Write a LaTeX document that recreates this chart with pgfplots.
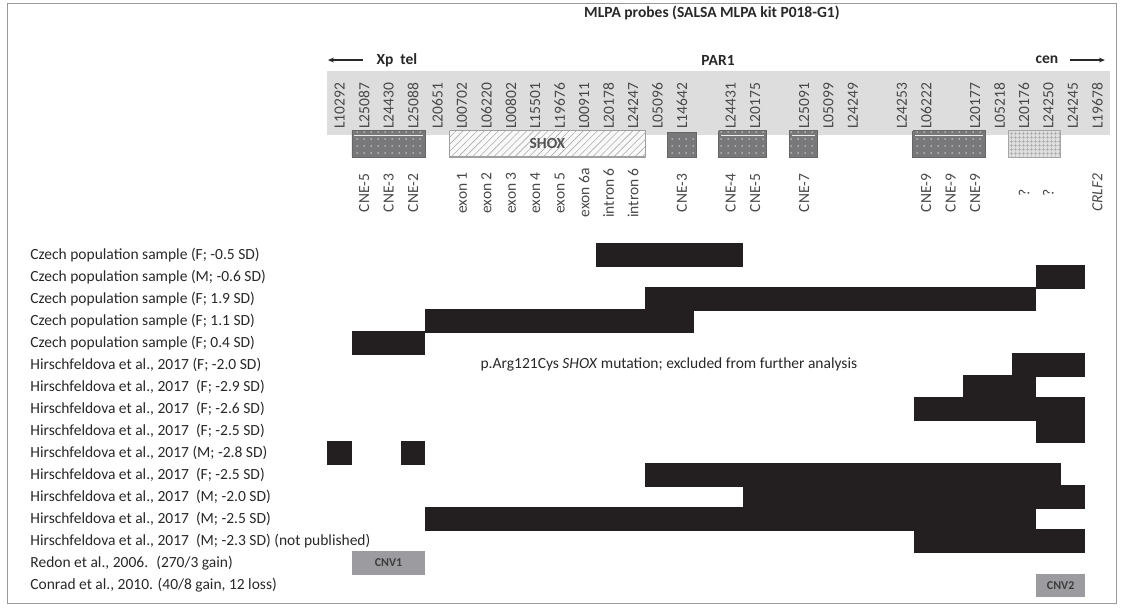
\documentclass[border=0pt]{standalone}
\usepackage{fontspec}
\setmainfont{Carlito}
\usepackage{pgfplots}
\pgfplotsset{compat=1.18}
\usetikzlibrary{patterns.meta, arrows.meta}

\definecolor{bar}{RGB}{35,31,32}
\definecolor{band}{RGB}{221,221,222}
\definecolor{cne}{RGB}{120,120,122}
\definecolor{cnv}{RGB}{156,156,160}
\definecolor{txt}{RGB}{40,40,40}

\newcommand\fs{\fontsize{15.5}{18}\selectfont}
% probe name above, annotation below (x = slot centre)
\newcommand\probe[2]{\node[rotate=90, font=\fs, text=txt!85] at (axis cs:#1,-5.77) {#2};}
\newcommand\note[2]{\node[rotate=90, font=\fs, text=txt!85] at (axis cs:#1,-1.82) {#2};}
\newcommand\row[2]{\node[anchor=west, font=\fs, text=txt] at (axis cs:-12.3,#1) {#2};}

\begin{document}
\begin{tikzpicture}
\begin{axis}[
  scale only axis, width=1122pt, height=608pt,
  xmin=-13.40, xmax=32.51,
  ymin=-10.59, ymax=17.05, y dir=reverse,
  hide axis, clip=false,
  del/.style={fill=bar, draw=none, mark=none},
  cne/.style={fill=cne, draw=gray!80!black, line width=0.8pt, mark=none,
    postaction={pattern={Dots[distance=7pt,radius=0.75pt]}, pattern color=white!80!gray}},
]
\path (rel axis cs:0,0) rectangle (rel axis cs:1,1);
\draw[gray!80, line width=1pt] (axis cs:-13.11,-10.45) rectangle (axis cs:32.30,16.86);

% header
\node[font=\fs\bfseries, text=txt] at (axis cs:15.73,-10.0) {MLPA probes (SALSA MLPA kit P018-G1)};
\node[font=\fs\bfseries, text=txt] at (axis cs:2.84,-7.86) {Xp\ \ tel};
\node[font=\fs\bfseries, text=txt] at (axis cs:15.98,-7.86) {PAR1};
\node[font=\fs\bfseries, text=txt] at (axis cs:29.44,-7.86) {cen};
\draw[-{Stealth[length=6pt,width=5pt]}, line width=1.2pt, txt] (axis cs:1.45,-7.86) -- (axis cs:0.02,-7.86);
\draw[-{Stealth[length=6pt,width=5pt]}, line width=1.2pt, txt] (axis cs:30.38,-7.86) -- (axis cs:31.81,-7.86);

% probe band
\addplot[fill=band, draw=none, mark=none] coordinates {(0,-7.36) (32,-7.36) (32,-4.45) (0,-4.45)};

% gene / element boxes
\addplot[cne] coordinates {(1,-4.64) (4,-4.64) (4,-3.45) (1,-3.45) (1,-4.64)};
\addplot[fill=white!95!gray, draw=gray!75, line width=1.2pt, mark=none,
  postaction={pattern={Lines[angle=45,distance=5pt,line width=0.6pt]}, pattern color=gray!65}]
  coordinates {(5,-4.64) (13,-4.64) (13,-3.45) (5,-3.45) (5,-4.64)};
\addplot[cne] coordinates {(13.9,-4.55) (15.1,-4.55) (15.1,-3.45) (13.9,-3.45) (13.9,-4.55)};
\addplot[cne] coordinates {(16,-4.64) (17.95,-4.64) (17.95,-3.45) (16,-3.45) (16,-4.64)};
\addplot[cne] coordinates {(18.9,-4.64) (20.03,-4.64) (20.03,-3.45) (18.9,-3.45) (18.9,-4.64)};
\addplot[cne] coordinates {(23.95,-4.64) (26.94,-4.64) (26.94,-3.45) (23.95,-3.45) (23.95,-4.64)};
\addplot[fill=gray!25, draw=gray!70, line width=0.8pt, mark=none,
  postaction={pattern={Hatch[distance=4pt,line width=0.5pt]}, pattern color=gray!70}]
  coordinates {(27.85,-4.64) (30,-4.64) (30,-3.45) (27.85,-3.45) (27.85,-4.64)};
\node[font=\fs\bfseries, text=txt!80] at (axis cs:9.0,-4.05) {SHOX};
% thin light line near the top of the CNE boxes
\draw[white!85!gray, line width=0.8pt] (axis cs:1.1,-4.45) -- (axis cs:3.9,-4.45);
\draw[white!85!gray, line width=0.8pt] (axis cs:16.1,-4.45) -- (axis cs:17.85,-4.45);
\draw[white!85!gray, line width=0.8pt] (axis cs:19.0,-4.45) -- (axis cs:19.93,-4.45);
\draw[white!85!gray, line width=0.8pt] (axis cs:24.05,-4.45) -- (axis cs:26.84,-4.45);

% probe names
\probe{0.5}{L10292}\probe{1.5}{L25087}\probe{2.5}{L24430}\probe{3.5}{L25088}
\probe{4.5}{L20651}\probe{5.5}{L00702}\probe{6.5}{L06220}\probe{7.5}{L00802}
\probe{8.5}{L15501}\probe{9.5}{L19676}\probe{10.5}{L00911}\probe{11.5}{L20178}
\probe{12.5}{L24247}\probe{13.5}{L05096}\probe{14.5}{L14642}\probe{16.5}{L24431}
\probe{17.5}{L20175}\probe{19.5}{L25091}\probe{20.5}{L05099}\probe{21.5}{L24249}
\probe{23.5}{L24253}\probe{24.5}{L06222}\probe{26.5}{L20177}\probe{27.5}{L05218}
\probe{28.5}{L20176}\probe{29.5}{L24250}\probe{30.5}{L24245}\probe{31.5}{L19678}

% annotations
\note{1.5}{CNE-5}\note{2.5}{CNE-3}\note{3.5}{CNE-2}
\note{5.5}{exon 1}\note{6.5}{exon 2}\note{7.5}{exon 3}\note{8.5}{exon 4}
\note{9.5}{exon 5}\note{10.5}{exon 6a}\note{11.5}{intron 6}\note{12.5}{intron 6}
\note{14.5}{CNE-3}\note{16.5}{CNE-4}\note{17.5}{CNE-5}\note{19.5}{CNE-7}
\note{24.5}{CNE-9}\note{25.5}{CNE-9}\note{26.5}{CNE-9}
\note{28.5}{?}\note{29.5}{?}\note{31.5}{\itshape CRLF2}

% sample rows
\row{1}{Czech population sample (F; -0.5 SD)}
\row{2}{Czech population sample (M; -0.6 SD)}
\row{3}{Czech population sample (F; 1.9 SD)}
\row{4}{Czech population sample (F; 1.1 SD)}
\row{5}{Czech population sample (F; 0.4 SD)}
\row{6}{Hirschfeldova et al., 2017 (F; -2.0 SD)}
\row{7}{Hirschfeldova et al., 2017 \ (F; -2.9 SD)}
\row{8}{Hirschfeldova et al., 2017 \ (F; -2.6 SD)}
\row{9}{Hirschfeldova et al., 2017 \ (F; -2.5 SD)}
\row{10}{Hirschfeldova et al., 2017 (M; -2.8 SD)}
\row{11}{Hirschfeldova et al., 2017 \ (F; -2.5 SD)}
\row{12}{Hirschfeldova et al., 2017 \ (M; -2.0 SD)}
\row{13}{Hirschfeldova et al., 2017 \ (M; -2.5 SD)}
\row{14}{Hirschfeldova et al., 2017 \ (M; -2.3 SD) (not published)}
\row{15}{Redon et al., 2006. \ (270/3 gain)}
\row{16}{Conrad et al., 2010. (40/8 gain, 12 loss)}
\node[anchor=west, font=\fs, text=txt] at (axis cs:6.12,6) {p.Arg121Cys \textit{SHOX} mutation; excluded from further analysis};

% deleted / duplicated probe ranges (slot from, slot to)
\addplot[del] coordinates {(11,0.46) (17,0.46) (17,1.54) (11,1.54)};
\addplot[del] coordinates {(29,1.46) (31,1.46) (31,2.54) (29,2.54)};
\addplot[del] coordinates {(13,2.46) (29,2.46) (29,3.54) (13,3.54)};
\addplot[del] coordinates {(4,3.46) (15,3.46) (15,4.54) (4,4.54)};
\addplot[del] coordinates {(1,4.46) (4,4.46) (4,5.54) (1,5.54)};
\addplot[del] coordinates {(28,5.46) (31,5.46) (31,6.54) (28,6.54)};
\addplot[del] coordinates {(26,6.46) (29,6.46) (29,7.54) (26,7.54)};
\addplot[del] coordinates {(24,7.46) (31,7.46) (31,8.54) (24,8.54)};
\addplot[del] coordinates {(29,8.46) (31,8.46) (31,9.54) (29,9.54)};
\addplot[del] coordinates {(0,9.46) (1,9.46) (1,10.54) (0,10.54)};
\addplot[del] coordinates {(3,9.46) (4,9.46) (4,10.54) (3,10.54)};
\addplot[del] coordinates {(13,10.46) (30,10.46) (30,11.54) (13,11.54)};
\addplot[del] coordinates {(17,11.46) (31,11.46) (31,12.54) (17,12.54)};
\addplot[del] coordinates {(4,12.46) (29,12.46) (29,13.54) (4,13.54)};
\addplot[del] coordinates {(24,13.46) (31,13.46) (31,14.54) (24,14.54)};
% CNV regions from the literature
\addplot[fill=cnv, draw=none, mark=none] coordinates {(1,14.46) (4,14.46) (4,15.54) (1,15.54)};
\addplot[fill=cnv, draw=none, mark=none] coordinates {(29,15.5) (31,15.5) (31,16.55) (29,16.55)};
\node[font=\fontsize{12}{14}\selectfont\bfseries, text=txt!90] at (axis cs:2.5,15) {CNV1};
\node[font=\fontsize{12}{14}\selectfont\bfseries, text=txt!90] at (axis cs:30,16.02) {CNV2};
\end{axis}
\end{tikzpicture}
\end{document}
